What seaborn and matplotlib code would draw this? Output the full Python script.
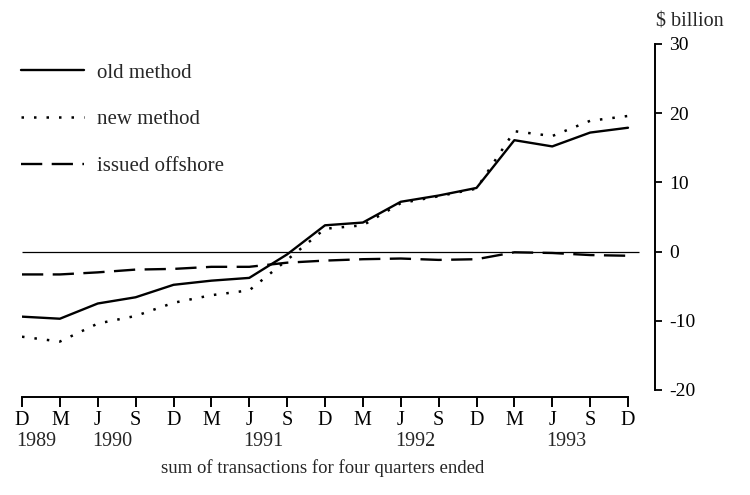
import matplotlib
matplotlib.use("Agg")
import matplotlib.pyplot as plt
import seaborn as sns
import pandas as pd
from matplotlib.lines import Line2D

# ---- data ----
quarters = ["D", "M", "J", "S", "D", "M", "J", "S", "D", "M", "J", "S", "D", "M", "J", "S", "D"]
year_labels = {0: "1989", 2: "1990", 6: "1991", 10: "1992", 14: "1993"}
old_method = [-9.4, -9.7, -7.5, -6.6, -4.8, -4.2, -3.8, -0.4, 3.8, 4.2, 7.2, 8.1, 9.2, 16.1, 15.2, 17.2, 17.9]
new_method = [-12.3, -13.0, -10.4, -9.3, -7.4, -6.3, -5.6, -1.2, 3.3, 3.8, 7.0, 8.0, 9.1, 17.4, 16.7, 18.9, 19.6]
issued_offshore = [-3.3, -3.3, -3.0, -2.6, -2.5, -2.2, -2.2, -1.6, -1.3, -1.1, -1.0, -1.2, -1.1, -0.1, -0.2, -0.5, -0.6]
y_ticks = [-20, -10, 0, 10, 20, 30]
series_names = ["old method", "new method", "issued offshore"]

idx = list(range(len(quarters)))
df = pd.DataFrame({
    "q": idx * 3,
    "value": old_method + new_method + issued_offshore,
    "series": [series_names[0]] * len(idx) + [series_names[1]] * len(idx) + [series_names[2]] * len(idx),
})

sns.set_style("white")
plt.rcParams["font.family"] = ["Liberation Serif", "DejaVu Serif"]
plt.rcParams["axes.unicode_minus"] = False

fig = plt.figure(figsize=(7.5, 4.95), dpi=100)
ax = fig.add_axes([22 / 750, 1 - 390 / 495, (655 - 22) / 750, (390 - 44) / 495])

styles = {
    "old method": dict(linestyle="-", linewidth=1.7),
    "new method": dict(linestyle=(0, (1, 4)), linewidth=1.8),
    "issued offshore": dict(linestyle=(0, (9, 4)), linewidth=1.7),
}

# zero reference line
ax.hlines(0, idx[0], idx[-1] + 0.3, color="black", linewidth=0.9)

for name in series_names:
    sub = df[df["series"] == name]
    sns.lineplot(data=sub, x="q", y="value", ax=ax, color="black", legend=False,
                 **styles[name])

px_per_q = (628 - 22) / 16
ax.set_xlim(0, (655 - 22) / px_per_q)
ax.set_ylim(-20, 30)

# spines
for s in ["left", "top"]:
    ax.spines[s].set_visible(False)
ax.spines["right"].set_bounds(-20, 30)
ax.spines["right"].set_linewidth(1.4)
ax.spines["bottom"].set_bounds(idx[0], idx[-1])
ax.spines["bottom"].set_position(("outward", 5))
ax.spines["bottom"].set_linewidth(1.4)
ax.spines["right"].set_color("black")
ax.spines["bottom"].set_color("black")

ax.yaxis.tick_right()
ax.set_yticks(y_ticks)
ax.set_yticklabels([str(v) for v in y_ticks])
ax.tick_params(axis="y", direction="out", length=5, width=1.3, pad=5,
               labelsize=14, colors="black", left=False, right=True)
ax.set_xticks(idx)
ax.set_xticklabels(quarters)
ax.tick_params(axis="x", direction="out", length=7, width=1.4, pad=3,
               labelsize=14.5, colors="black", bottom=True, top=False)
ax.set_xlabel("")
ax.set_ylabel("")

for i, yl in year_labels.items():
    ax.annotate(yl, xy=(i, 0), xycoords=("data", "axes fraction"),
                xytext=(-4, -37), textcoords="offset points",
                ha="left", va="center", fontsize=14.5)

fig.text(323 / 750, 1 - 468 / 495, "sum of transactions for four quarters ended",
         ha="center", va="center", fontsize=13.5)
fig.text(690 / 750, 1 - 22 / 495, "$ billion", ha="center", va="center", fontsize=14.5)

handles = [Line2D([], [], color="black", **styles[n]) for n in series_names]
leg = fig.legend(handles, series_names, loc="upper left",
                 bbox_to_anchor=(21 / 750, 1 - 63 / 495), frameon=False,
                 fontsize=15, handlelength=3.0, handletextpad=0.65,
                 labelspacing=1.3, borderpad=0, borderaxespad=0)

fig.savefig("out.png", dpi=100, facecolor="white")
